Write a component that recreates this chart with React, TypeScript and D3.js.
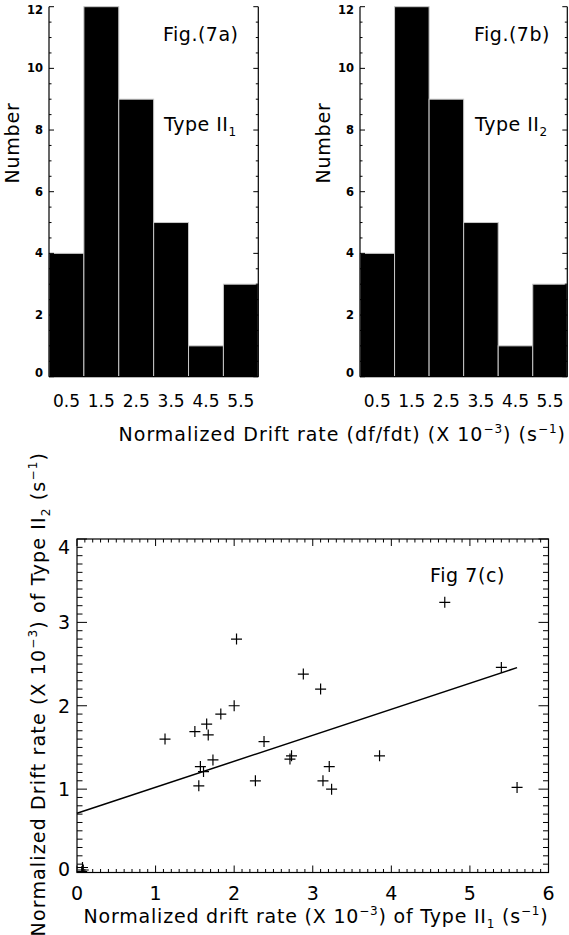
import React from 'react';
import * as d3 from 'd3';

// ---------- data ----------
const binLabels = ['0.5', '1.5', '2.5', '3.5', '4.5', '5.5'];
const countsTypeII1 = [4, 12, 9, 5, 1, 3];
const countsTypeII2 = [4, 12, 9, 5, 1, 3];
const histYTicks = [0, 2, 4, 6, 8, 10, 12];

const driftII1 = [1.12, 1.5, 1.65, 1.67, 1.83, 2.0, 1.57, 1.61, 1.55, 1.73, 2.38, 2.27, 2.71, 2.73, 2.88, 3.1, 3.21, 3.13, 3.24, 3.85, 5.6, 2.03, 4.68, 5.4, 0.07, 0.08, 0.06];
const driftII2 = [1.6, 1.69, 1.78, 1.65, 1.9, 2.0, 1.27, 1.21, 1.04, 1.35, 1.57, 1.1, 1.36, 1.4, 2.38, 2.2, 1.27, 1.1, 1.0, 1.4, 1.02, 2.8, 3.24, 2.46, 0.06, 0.03, 0.01];
const fitRangeX = [0, 5.6];
const fitIntercept = 0.71;
const fitSlope = 0.312;
const scatterXTicks = [0, 1, 2, 3, 4, 5, 6];
const scatterYTicks = [0, 1, 2, 3, 4];

const FONT = 'DejaVu Sans';

type HistProps = {
  left: number; right: number; top: number; bottom: number;
  counts: number[]; fig: string; sub: string;
};

function Histogram({ left, right, top, bottom, counts, fig, sub }: HistProps) {
  const x = d3.scaleLinear().domain([0, counts.length]).range([left, right]);
  const y = d3.scaleLinear().domain([0, 12]).range([bottom, top]);
  const minor = d3.range(0, 12.01, 0.5);
  return (
    <g fontFamily={FONT}>
      {counts.map((c, i) => (
        <rect key={i} x={x(i)} y={y(c)} width={x(i + 1) - x(i)} height={y(0) - y(c)}
          fill="#000" stroke="#c8c8c8" strokeWidth={1} />
      ))}
      <line x1={left} x2={left} y1={top} y2={bottom} stroke="#000" strokeWidth={1.2} />
      <line x1={right} x2={right} y1={top} y2={bottom} stroke="#000" strokeWidth={1.2} />
      <line x1={left} x2={right} y1={bottom} y2={bottom} stroke="#000" strokeWidth={1.2} />
      {minor.map((v) => {
        const major = v % 2 === 0;
        const len = major ? 5 : 2.5;
        return (
          <g key={v}>
            <line x1={left} x2={left + len} y1={y(v)} y2={y(v)} stroke="#000" strokeWidth={1} />
            <line x1={right - len} x2={right} y1={y(v)} y2={y(v)} stroke="#000" strokeWidth={1} />
          </g>
        );
      })}
      {histYTicks.map((v) => (
        <text key={v} x={left - 6} y={Math.max(top + 3, Math.min(bottom - 4, y(v)))}
          textAnchor="end" dominantBaseline="central" fontSize={11.5} fontWeight="bold">{v}</text>
      ))}
      {binLabels.map((l, i) => (
        <text key={l} x={x(i + 0.5)} y={407} textAnchor="middle" fontSize={17}>{l}</text>
      ))}
      <text transform={`translate(${left - 30},143) rotate(-90)`} textAnchor="middle" fontSize={19} letterSpacing={0.8}>Number</text>
      <text x={left + 114} y={41} fontSize={19} letterSpacing={0.5}>{fig}</text>
      <text x={left + 115} y={131} fontSize={19} letterSpacing={0.5}>
        Type II<tspan fontSize={12} dy={5}>{sub}</tspan>
      </text>
    </g>
  );
}

function Scatter() {
  const L = 77, R = 548.5, T = 539, B = 872.5;
  const x = d3.scaleLinear().domain([0, 6]).range([L, R]);
  const y = d3.scaleLinear().domain([0, 4]).range([B, T]);
  const xMinor = d3.range(0, 60.5, 1).map((v) => v / 10);
  const yMinor = d3.range(0, 40.5, 1).map((v) => v / 10);
  const line = d3.line<number>().x((v) => x(v)).y((v) => y(fitIntercept + fitSlope * v));
  const pts = driftII1.map((v, i) => [v, driftII2[i]]);
  return (
    <g fontFamily={FONT}>
      <defs>
        <clipPath id="plotclip"><rect x={L} y={T} width={R - L} height={B - T} /></clipPath>
      </defs>
      <rect x={L} y={T} width={R - L} height={B - T} fill="none" stroke="#000" strokeWidth={1.2} />
      {xMinor.map((v, i) => {
        const len = i % 10 === 0 ? 7 : 3.5;
        return (
          <g key={'x' + i}>
            <line x1={x(v)} x2={x(v)} y1={B} y2={B - len} stroke="#000" strokeWidth={1} />
            <line x1={x(v)} x2={x(v)} y1={T} y2={T + len} stroke="#000" strokeWidth={1} />
          </g>
        );
      })}
      {yMinor.map((v, i) => {
        const len = i % 10 === 0 ? 10 : 5.5;
        return (
          <g key={'y' + i}>
            <line x1={L} x2={L + len} y1={y(v)} y2={y(v)} stroke="#000" strokeWidth={1} />
            <line x1={R - len} x2={R} y1={y(v)} y2={y(v)} stroke="#000" strokeWidth={1} />
          </g>
        );
      })}
      {scatterXTicks.map((v) => (
        <text key={v} x={x(v)} y={900} textAnchor="middle" fontSize={19}>{v}</text>
      ))}
      {scatterYTicks.map((v) => (
        <text key={v} x={L - 7} y={Math.max(T + 8, Math.min(B - 4, y(v)))} textAnchor="end"
          dominantBaseline="central" fontSize={19}>{v}</text>
      ))}
      <path d={line(fitRangeX) || ''} fill="none" stroke="#000" strokeWidth={1.5} />
      <g clipPath="url(#plotclip)">
        {pts.map(([a, b], i) => (
          <path key={i} d={`M${x(a) - 5.5},${y(b)}H${x(a) + 5.5}M${x(a)},${y(b) - 5.5}V${y(b) + 5.5}`}
            stroke="#000" strokeWidth={1.2} fill="none" />
        ))}
      </g>
      <text x={430} y={582} fontSize={19} letterSpacing={0.6}>Fig 7(c)</text>
      <text x={R} y={923} textAnchor="end" fontSize={19} letterSpacing={0.8}>
        Normalized drift rate (X 10<tspan fontSize={12} dy={-8}>−3</tspan>
        <tspan dy={8}>) of Type II</tspan><tspan fontSize={12} dy={5}>1</tspan>
        <tspan dy={-5}> (s</tspan><tspan fontSize={12} dy={-8}>−1</tspan><tspan dy={8}>)</tspan>
      </text>
      <text transform="translate(45,452) rotate(-90)" textAnchor="end" fontSize={19} letterSpacing={1.15}>
        Normalized Drift rate (X 10<tspan fontSize={12} dy={-8}>−3</tspan>
        <tspan dy={8}>) of Type II</tspan><tspan fontSize={12} dy={5}>2</tspan>
        <tspan dy={-5}> (s</tspan><tspan fontSize={12} dy={-8}>−1</tspan><tspan dy={8}>)</tspan>
      </text>
    </g>
  );
}

export default function App() {
  return (
    <svg width={569} height={935} style={{ position: 'absolute', left: 0, top: 0, background: '#fff' }}>
      <rect x={0} y={0} width={569} height={935} fill="#fff" />
      <Histogram left={49} right={258.3} top={6.7} bottom={376.7} counts={countsTypeII1} fig="Fig.(7a)" sub="1" />
      <Histogram left={360} right={567.3} top={6.7} bottom={376.7} counts={countsTypeII2} fig="Fig.(7b)" sub="2" />
      <text x={566} y={441} textAnchor="end" fontSize={19} fontFamily={FONT} letterSpacing={1}>
        Normalized Drift rate (df/fdt) (X 10<tspan fontSize={12} dy={-8}>−3</tspan>
        <tspan dy={8}>) (s</tspan><tspan fontSize={12} dy={-8}>−1</tspan><tspan dy={8}>)</tspan>
      </text>
      <Scatter />
    </svg>
  );
}
